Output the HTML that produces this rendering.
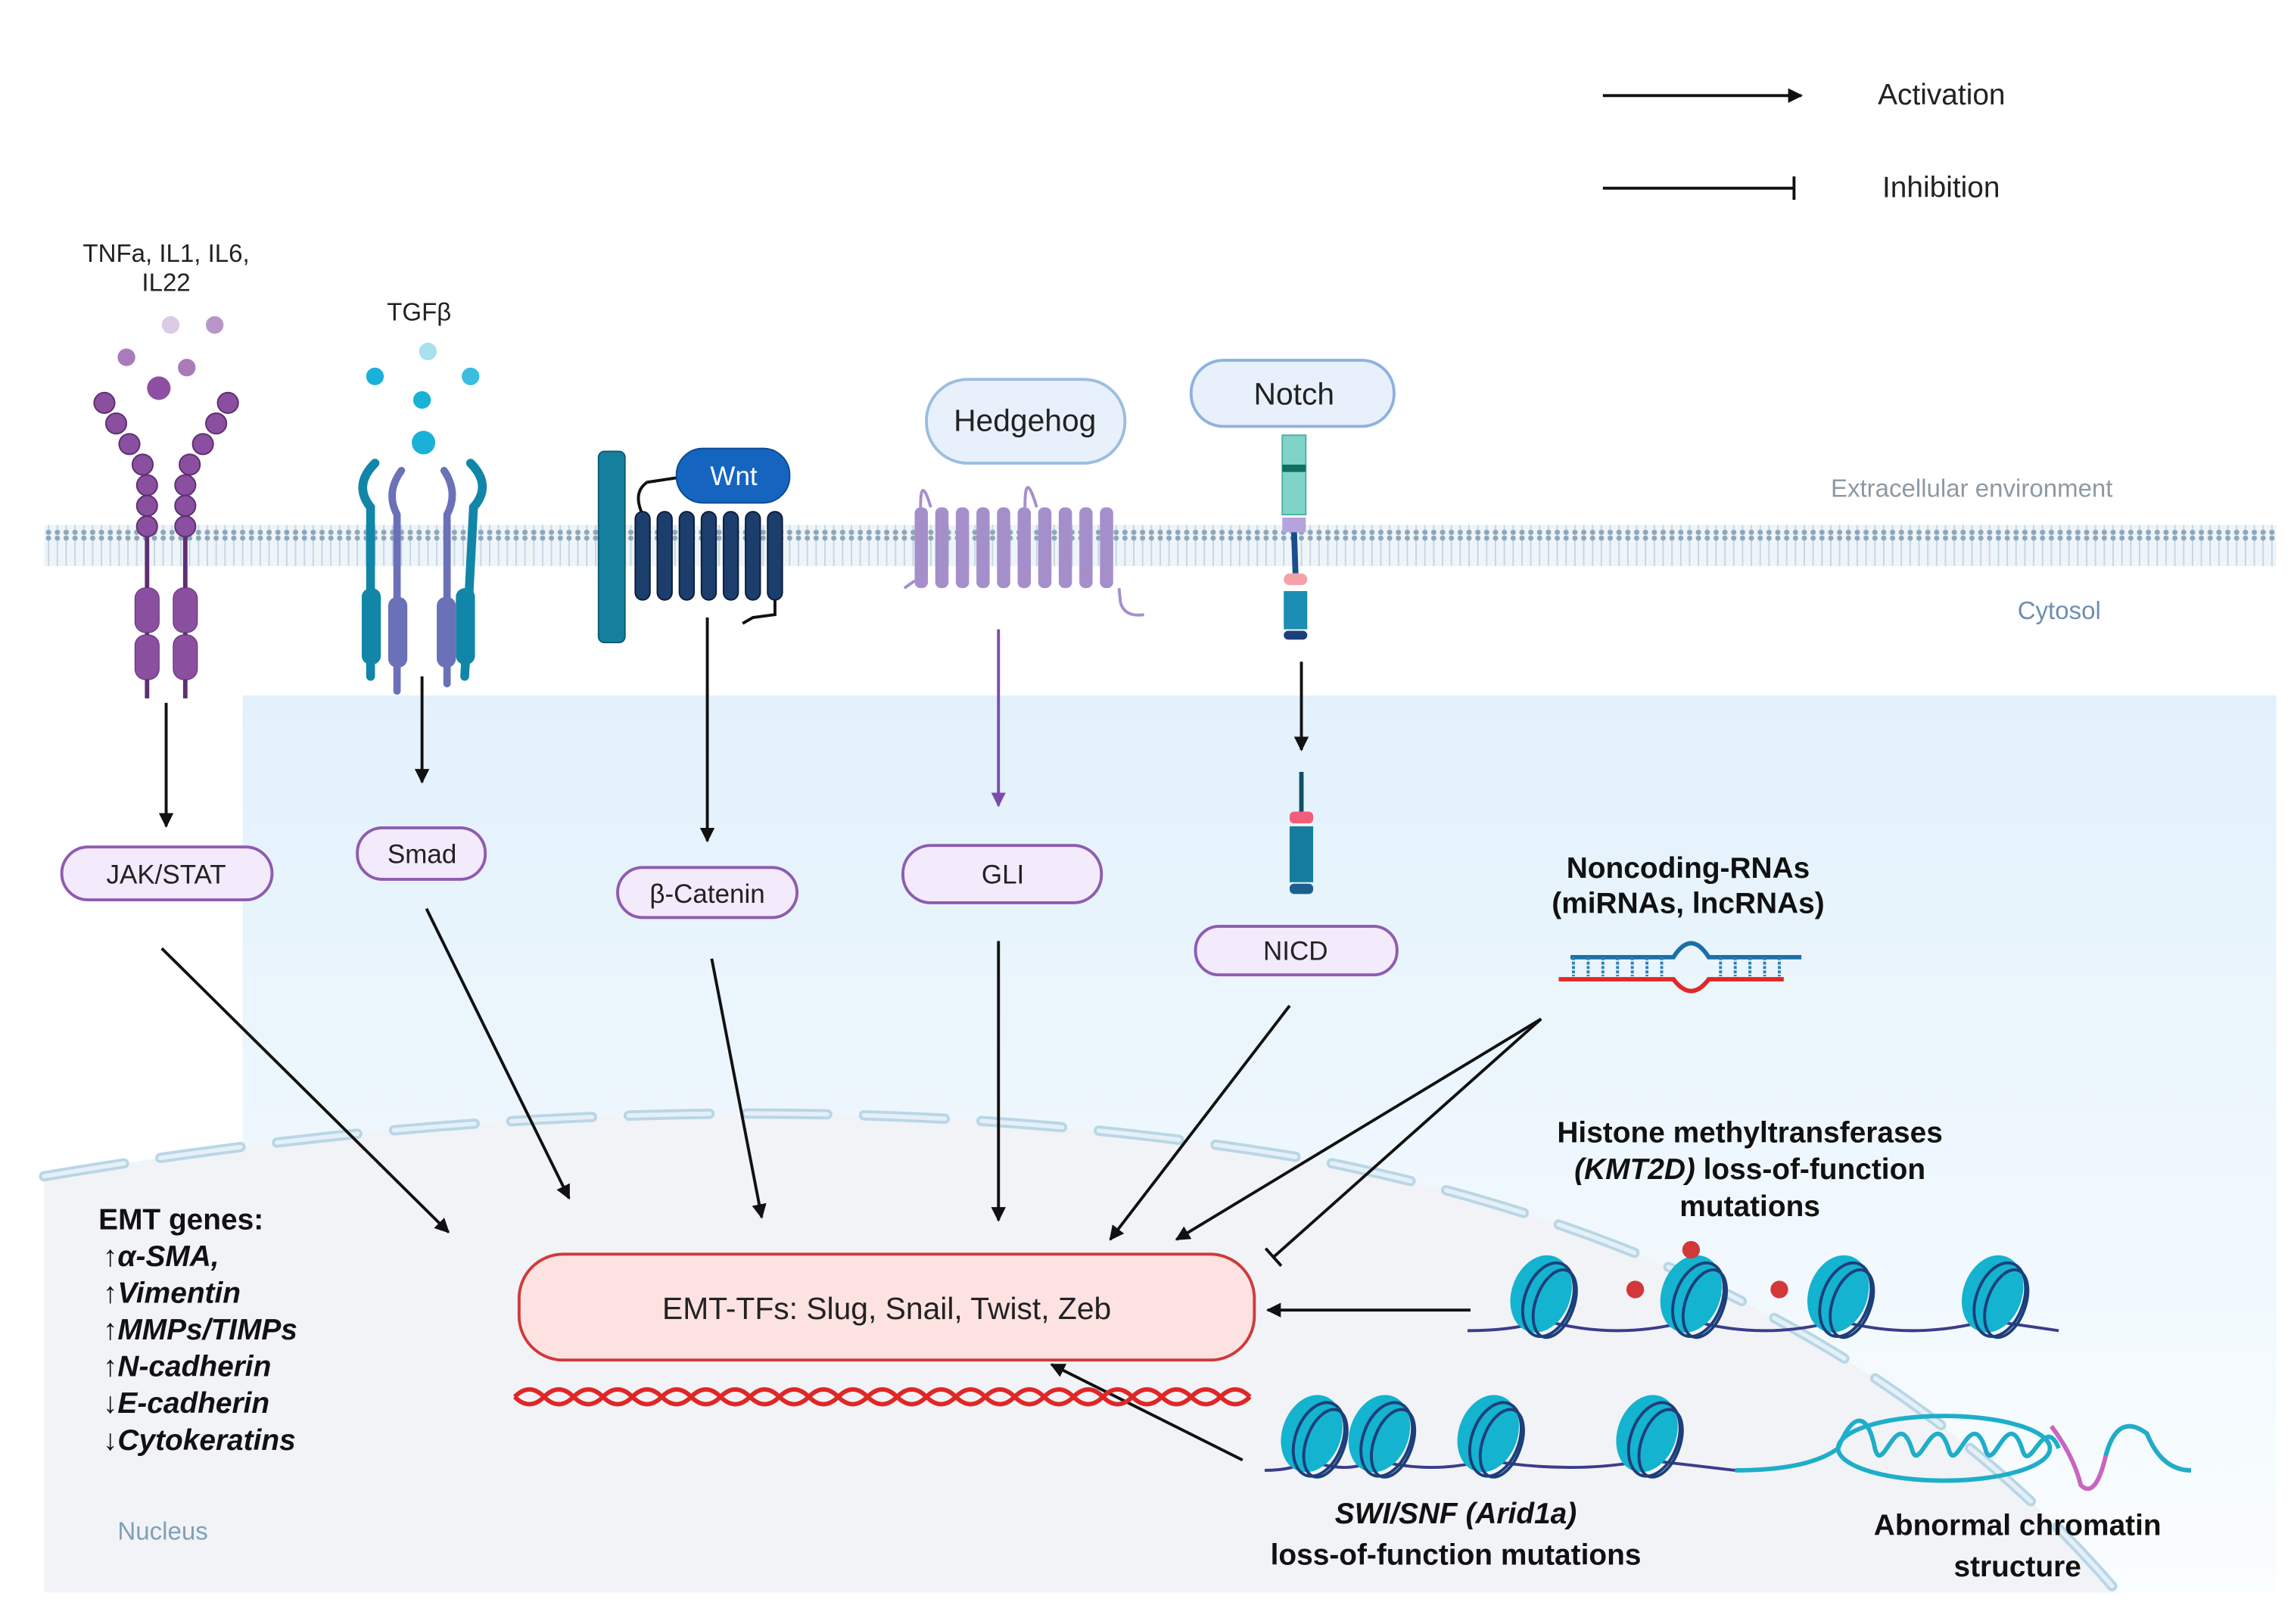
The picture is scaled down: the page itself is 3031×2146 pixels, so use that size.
<!DOCTYPE html>
<html><head><meta charset="utf-8"><style>
html,body{margin:0;padding:0;background:#fff;}
svg{display:block;}
text{font-family:"Liberation Sans",sans-serif;}
</style></head><body>
<svg width="3031" height="2146" viewBox="0 0 1560 1104.5" preserveAspectRatio="none" xmlns="http://www.w3.org/2000/svg">
<defs>
<marker id="ar" markerWidth="10" markerHeight="10" refX="9" refY="5" orient="auto" markerUnits="userSpaceOnUse"><path d="M0,0 L10,5 L0,10 Z" fill="#111"/></marker>
<marker id="arp" markerWidth="10" markerHeight="10" refX="9" refY="5" orient="auto" markerUnits="userSpaceOnUse"><path d="M0,0 L10,5 L0,10 Z" fill="#7a4ea8"/></marker>
<marker id="bar" markerWidth="4" markerHeight="16" refX="2" refY="8" orient="auto" markerUnits="userSpaceOnUse"><rect x="1" y="0" width="2" height="16" fill="#111"/></marker>
<linearGradient id="cy" x1="0" y1="0" x2="0" y2="1"><stop offset="0" stop-color="#e2f1fb"/><stop offset="0.5" stop-color="#eef7fd"/><stop offset="1" stop-color="#fafdff"/></linearGradient>
<pattern id="mem" width="6" height="28" patternUnits="userSpaceOnUse"><rect width="6" height="28" fill="#eef5fa"/><circle cx="3" cy="2" r="1.8" fill="#8fa6b8"/><circle cx="3" cy="26" r="1.8" fill="#8fa6b8"/><line x1="3" y1="4" x2="3" y2="24" stroke="#c6d6e2" stroke-width="1"/></pattern>
<g id="nuc"><ellipse cx="0" cy="0" rx="20" ry="27" fill="#14b3cf" transform="rotate(20)"/><ellipse cx="6" cy="2" rx="16" ry="26" fill="none" stroke="#1c3f7a" stroke-width="2" transform="rotate(20)"/><ellipse cx="11" cy="3" rx="13" ry="24" fill="none" stroke="#1c3f7a" stroke-width="2" transform="rotate(20)"/></g>
</defs>
<rect width="1560" height="1104.5" fill="#fff"/>
<!-- cytosol -->
<rect x="165" y="473" width="1383" height="610" fill="url(#cy)"/>
<!-- nucleus -->
<path d="M30,800 Q500,720 900,790 Q1250,860 1440,1083 L30,1083 Z" fill="#f1f3f6"/>
<path d="M30,800 Q500,720 900,790 Q1250,860 1440,1083" fill="none" stroke="#b9d6e6" stroke-width="7" stroke-dasharray="55,25" stroke-linecap="round"/>
<path d="M30,800 Q500,720 900,790 Q1250,860 1440,1083" fill="none" stroke="#e4f0f7" stroke-width="3" stroke-dasharray="55,25" stroke-linecap="round"/>
<!-- membrane -->
<rect x="30" y="357" width="1518" height="28" fill="url(#mem)"/>
<!-- legend -->
<line x1="1090" y1="65" x2="1225" y2="65" stroke="#111" stroke-width="2" marker-end="url(#ar)"/>
<text x="1277" y="71" font-size="20" fill="#222">Activation</text>
<line x1="1090" y1="128" x2="1220" y2="128" stroke="#111" stroke-width="2" marker-end="url(#bar)"/>
<text x="1280" y="134" font-size="20" fill="#222">Inhibition</text>
<text x="1245" y="338" font-size="17" fill="#8d9aa4">Extracellular environment</text>
<text x="1372" y="421" font-size="17" fill="#6d8fb2">Cytosol</text>
<!-- labels top -->
<text x="113" y="178" font-size="17" text-anchor="middle" fill="#222">TNFa, IL1, IL6,</text>
<text x="113" y="198" font-size="17" text-anchor="middle" fill="#222">IL22</text>
<text x="285" y="218" font-size="17" text-anchor="middle" fill="#222">TGFβ</text>
<!-- cytokine dots -->
<circle cx="116" cy="221" r="6" fill="#dccbe4"/><circle cx="146" cy="221" r="6" fill="#b895c6"/>
<circle cx="86" cy="243" r="6" fill="#a97bbb"/><circle cx="127" cy="250" r="6" fill="#a97bbb"/>
<circle cx="108" cy="264" r="8" fill="#8e4fa3"/>
<!-- cytokine receptor -->
<g fill="#8a4f9e" stroke="#5e2e73" stroke-width="1">
<circle cx="71" cy="274" r="7"/><circle cx="79" cy="288" r="7"/><circle cx="88" cy="302" r="7"/><circle cx="97" cy="316" r="7"/><circle cx="100" cy="330" r="7"/><circle cx="100" cy="344" r="7"/><circle cx="100" cy="358" r="7"/>
<circle cx="155" cy="274" r="7"/><circle cx="147" cy="288" r="7"/><circle cx="138" cy="302" r="7"/><circle cx="129" cy="316" r="7"/><circle cx="126" cy="330" r="7"/><circle cx="126" cy="344" r="7"/><circle cx="126" cy="358" r="7"/>
<rect x="92" y="400" width="16" height="30" rx="7"/><rect x="92" y="432" width="16" height="30" rx="7"/>
<rect x="118" y="400" width="16" height="30" rx="7"/><rect x="118" y="432" width="16" height="30" rx="7"/>
</g>
<line x1="100" y1="365" x2="100" y2="475" stroke="#5e2e73" stroke-width="3"/>
<line x1="126" y1="365" x2="126" y2="475" stroke="#5e2e73" stroke-width="3"/>
<g fill="#8a4f9e"><rect x="92" y="400" width="16" height="30" rx="7"/><rect x="92" y="432" width="16" height="30" rx="7"/><rect x="118" y="400" width="16" height="30" rx="7"/><rect x="118" y="432" width="16" height="30" rx="7"/></g>
<!-- TGF dots -->
<circle cx="291" cy="239" r="6" fill="#a7e0ef"/><circle cx="255" cy="256" r="6" fill="#1ab1d9"/><circle cx="320" cy="256" r="6" fill="#39bde0"/><circle cx="287" cy="272" r="6" fill="#1ab1d9"/><circle cx="288" cy="301" r="8" fill="#1ab1d9"/>
<!-- TGF receptor -->
<g fill="none" stroke-linecap="round">
<path d="M255,315 Q240,330 252,345 L252,460" stroke="#1286a8" stroke-width="6"/>
<path d="M320,315 Q335,330 322,345 L316,460" stroke="#1286a8" stroke-width="6"/>
<path d="M273,320 Q262,335 270,350 L270,470" stroke="#6a71b8" stroke-width="5"/>
<path d="M302,320 Q312,335 304,350 L304,465" stroke="#6a71b8" stroke-width="5"/>
</g>
<g><rect x="246" y="400" width="13" height="52" rx="6" fill="#1286a8"/><rect x="310" y="400" width="13" height="52" rx="6" fill="#1286a8"/><rect x="264" y="406" width="13" height="48" rx="6" fill="#6a71b8"/><rect x="297" y="406" width="13" height="48" rx="6" fill="#6a71b8"/></g>
<!-- Wnt -->
<rect x="407" y="307" width="18" height="130" rx="4" fill="#15809e" stroke="#0c5c74"/>
<path d="M460,325 L440,328 Q430,335 437,350" fill="none" stroke="#111" stroke-width="2"/>
<g fill="#1c3e6c" stroke="#0c1e3a" stroke-width="1">
<rect x="432" y="348" width="10" height="60" rx="5"/><rect x="447" y="348" width="10" height="60" rx="5"/><rect x="462" y="348" width="10" height="60" rx="5"/><rect x="477" y="348" width="10" height="60" rx="5"/><rect x="492" y="348" width="10" height="60" rx="5"/><rect x="507" y="348" width="10" height="60" rx="5"/><rect x="522" y="348" width="10" height="60" rx="5"/></g>
<path d="M527,408 L527,418 L512,420 L505,424" fill="none" stroke="#111" stroke-width="2"/>
<rect x="460" y="305" width="77" height="37" rx="18" fill="#1565c0" stroke="#0c4a90"/>
<text x="499" y="330" font-size="18" text-anchor="middle" fill="#fff">Wnt</text>
<!-- Hedgehog -->
<rect x="630" y="258" width="135" height="57" rx="28" fill="#e8f1fb" stroke="#9bbde0" stroke-width="2"/>
<text x="697" y="293" font-size="21" text-anchor="middle" fill="#222">Hedgehog</text>
<g fill="#a58fcb">
<rect x="622" y="345" width="9" height="55" rx="4"/><rect x="636" y="345" width="9" height="55" rx="4"/><rect x="650" y="345" width="9" height="55" rx="4"/><rect x="664" y="345" width="9" height="55" rx="4"/><rect x="678" y="345" width="9" height="55" rx="4"/><rect x="692" y="345" width="9" height="55" rx="4"/><rect x="706" y="345" width="9" height="55" rx="4"/><rect x="720" y="345" width="9" height="55" rx="4"/><rect x="734" y="345" width="9" height="55" rx="4"/><rect x="748" y="345" width="9" height="55" rx="4"/></g>
<path d="M626,345 Q626,322 633,345 M697,345 Q697,318 705,345 M761,400 L762,410 Q765,420 778,418 M615,400 L622,395" fill="none" stroke="#a58fcb" stroke-width="2"/>
<!-- Notch -->
<rect x="810" y="245" width="138" height="45" rx="22" fill="#e8f1fb" stroke="#8fb2de" stroke-width="2"/>
<text x="880" y="275" font-size="21" text-anchor="middle" fill="#222">Notch</text>
<rect x="872" y="296" width="16" height="54" fill="#7fd3c8" stroke="#4fb1a6"/><rect x="872" y="316" width="16" height="5" fill="#11705f"/>
<rect x="872" y="352" width="16" height="10" fill="#b5a3dd"/>
<line x1="880" y1="362" x2="881" y2="390" stroke="#1a4e8e" stroke-width="4"/>
<rect x="873" y="390" width="16" height="8" rx="4" fill="#f3a3a8"/>
<rect x="873" y="402" width="16" height="26" fill="#1c8db3"/><rect x="873" y="429" width="16" height="6" rx="3" fill="#1c3f7a"/>
<line x1="885" y1="525" x2="885" y2="552" stroke="#0f4f66" stroke-width="3"/>
<rect x="877" y="552" width="16" height="8" rx="3" fill="#f25d7a"/>
<rect x="877" y="562" width="16" height="38" fill="#167d9e"/><rect x="877" y="601" width="16" height="7" rx="3" fill="#1c5f8e"/>
<!-- vertical arrows -->
<g stroke="#111" stroke-width="2" marker-end="url(#ar)">
<line x1="113" y1="478" x2="113" y2="562"/>
<line x1="287" y1="460" x2="287" y2="532"/>
<line x1="481" y1="420" x2="481" y2="572"/>
<line x1="885" y1="450" x2="885" y2="510"/>
</g>
<line x1="679" y1="428" x2="679" y2="548" stroke="#7a4ea8" stroke-width="2" marker-end="url(#arp)"/>
<!-- pills -->
<g fill="#f3eafb" stroke="#8e5cb0" stroke-width="2">
<rect x="42" y="576" width="143" height="36" rx="18"/>
<rect x="243" y="563" width="87" height="35" rx="17"/>
<rect x="420" y="590" width="122" height="34" rx="17"/>
<rect x="614" y="575" width="135" height="39" rx="19"/>
<rect x="813" y="630" width="137" height="33" rx="16"/>
</g>
<g font-size="18" text-anchor="middle" fill="#222">
<text x="113" y="601">JAK/STAT</text>
<text x="287" y="587">Smad</text>
<text x="481" y="614">β-Catenin</text>
<text x="682" y="601">GLI</text>
<text x="881" y="653">NICD</text>
</g>
<!-- ncRNA -->
<text x="1148" y="597" font-size="20" font-weight="bold" text-anchor="middle" fill="#111">Noncoding-RNAs</text>
<text x="1148" y="621" font-size="20" font-weight="bold" text-anchor="middle" fill="#111">(miRNAs, lncRNAs)</text>
<path d="M1068,651 L1138,651 Q1150,632 1162,651 L1225,651" fill="none" stroke="#1b6fa8" stroke-width="3"/>
<path d="M1060,666 L1138,666 Q1150,682 1162,666 L1213,666" fill="none" stroke="#e02828" stroke-width="3"/>
<path d="M1070,651 L1070,664 M1080,651 L1080,664 M1090,651 L1090,664 M1100,651 L1100,664 M1110,651 L1110,664 M1120,651 L1120,664 M1130,651 L1130,664 M1170,651 L1170,664 M1180,651 L1180,664 M1190,651 L1190,664 M1200,651 L1200,664 M1210,651 L1210,664" stroke="#2a7fb5" stroke-width="2" stroke-dasharray="2,1"/>
<!-- diagonal arrows -->
<g stroke="#111" stroke-width="2">
<line x1="110" y1="645" x2="305" y2="838" marker-end="url(#ar)"/>
<line x1="290" y1="618" x2="387" y2="815" marker-end="url(#ar)"/>
<line x1="484" y1="652" x2="518" y2="828" marker-end="url(#ar)"/>
<line x1="679" y1="640" x2="679" y2="830" marker-end="url(#ar)"/>
<line x1="877" y1="684" x2="755" y2="843" marker-end="url(#ar)"/>
<line x1="1048" y1="693" x2="800" y2="843" marker-end="url(#ar)"/>
<line x1="1048" y1="693" x2="866" y2="855" marker-end="url(#bar)"/>
<line x1="1000" y1="891" x2="862" y2="891" marker-end="url(#ar)"/>
<line x1="845" y1="993" x2="715" y2="928" marker-end="url(#ar)"/>
</g>
<!-- EMT box -->
<rect x="353" y="853" width="500" height="72" rx="30" fill="#fde2e2" stroke="#cf3a3c" stroke-width="2"/>
<text x="603" y="897" font-size="21" text-anchor="middle" fill="#222">EMT-TFs: Slug, Snail, Twist, Zeb</text>
<!-- DNA helix -->
<path d="M350,950 q10,-10 20,0 t20,0 t20,0 t20,0 t20,0 t20,0 t20,0 t20,0 t20,0 t20,0 t20,0 t20,0 t20,0 t20,0 t20,0 t20,0 t20,0 t20,0 t20,0 t20,0 t20,0 t20,0 t20,0 t20,0 t20,0" fill="none" stroke="#e02626" stroke-width="3"/>
<path d="M350,950 q10,10 20,0 t20,0 t20,0 t20,0 t20,0 t20,0 t20,0 t20,0 t20,0 t20,0 t20,0 t20,0 t20,0 t20,0 t20,0 t20,0 t20,0 t20,0 t20,0 t20,0 t20,0 t20,0 t20,0 t20,0 t20,0" fill="none" stroke="#e02626" stroke-width="3"/>
<!-- histone -->
<text x="1190" y="777" font-size="20" font-weight="bold" text-anchor="middle" fill="#111">Histone methyltransferases</text>
<text x="1190" y="802" font-size="20" font-weight="bold" text-anchor="middle" fill="#111"><tspan font-style="italic">(KMT2D)</tspan> loss-of-function</text>
<text x="1190" y="827" font-size="20" font-weight="bold" text-anchor="middle" fill="#111">mutations</text>
<path d="M998,905 Q1030,905 1050,898 Q1100,912 1150,898 Q1200,912 1250,898 Q1300,912 1352,898 L1400,905" fill="none" stroke="#3b3c8a" stroke-width="2"/>
<use href="#nuc" x="1048" y="880"/><use href="#nuc" x="1150" y="880"/><use href="#nuc" x="1250" y="880"/><use href="#nuc" x="1355" y="880"/>
<circle cx="1150" cy="850" r="6" fill="#d23838"/><circle cx="1112" cy="877" r="6" fill="#d23838"/><circle cx="1210" cy="877" r="6" fill="#d23838"/>
<!-- row 2 -->
<path d="M860,1000 Q880,1000 890,993 Q915,1003 935,993 Q975,1003 1010,993 Q1070,1003 1120,993 L1180,1000" fill="none" stroke="#3b3c8a" stroke-width="2"/>
<use href="#nuc" x="892" y="975"/><use href="#nuc" x="938" y="975"/><use href="#nuc" x="1012" y="975"/><use href="#nuc" x="1120" y="975"/>
<path d="M1180,1000 Q1230,1000 1250,985 C1260,960 1270,960 1275,985 C1280,1005 1290,955 1300,985 C1305,1005 1315,955 1325,985 C1330,1005 1340,955 1350,985 C1355,1005 1365,955 1375,985 C1380,1005 1390,960 1400,985" fill="none" stroke="#1eaec9" stroke-width="3"/>
<ellipse cx="1322" cy="985" rx="72" ry="22" fill="none" stroke="#1eaec9" stroke-width="3"/>
<path d="M1395,970 Q1410,990 1415,1010 Q1425,1020 1432,990 Q1440,960 1460,975 Q1470,1000 1490,1000" fill="none" stroke="#c965bf" stroke-width="3"/>
<path d="M1432,990 Q1440,960 1460,975 Q1470,1000 1490,1000" fill="none" stroke="#1eaec9" stroke-width="3"/>
<text x="990" y="1036" font-size="20" font-weight="bold" font-style="italic" text-anchor="middle" fill="#111">SWI/SNF (Arid1a)</text>
<text x="990" y="1064" font-size="20" font-weight="bold" text-anchor="middle" fill="#111">loss-of-function mutations</text>
<text x="1372" y="1044" font-size="20" font-weight="bold" text-anchor="middle" fill="#111">Abnormal chromatin</text>
<text x="1372" y="1072" font-size="20" font-weight="bold" text-anchor="middle" fill="#111">structure</text>
<!-- EMT genes -->
<g font-size="20" font-weight="bold" fill="#111">
<text x="67" y="836">EMT genes:</text>
<g font-style="italic">
<text x="70" y="861">↑α-SMA,</text>
<text x="70" y="886">↑Vimentin</text>
<text x="70" y="911">↑MMPs/TIMPs</text>
<text x="70" y="936">↑N-cadherin</text>
<text x="70" y="961">↓E-cadherin</text>
<text x="70" y="986">↓Cytokeratins</text>
</g></g>
<text x="80" y="1047" font-size="17" fill="#7fa0b8">Nucleus</text>
</svg>
</body></html>
